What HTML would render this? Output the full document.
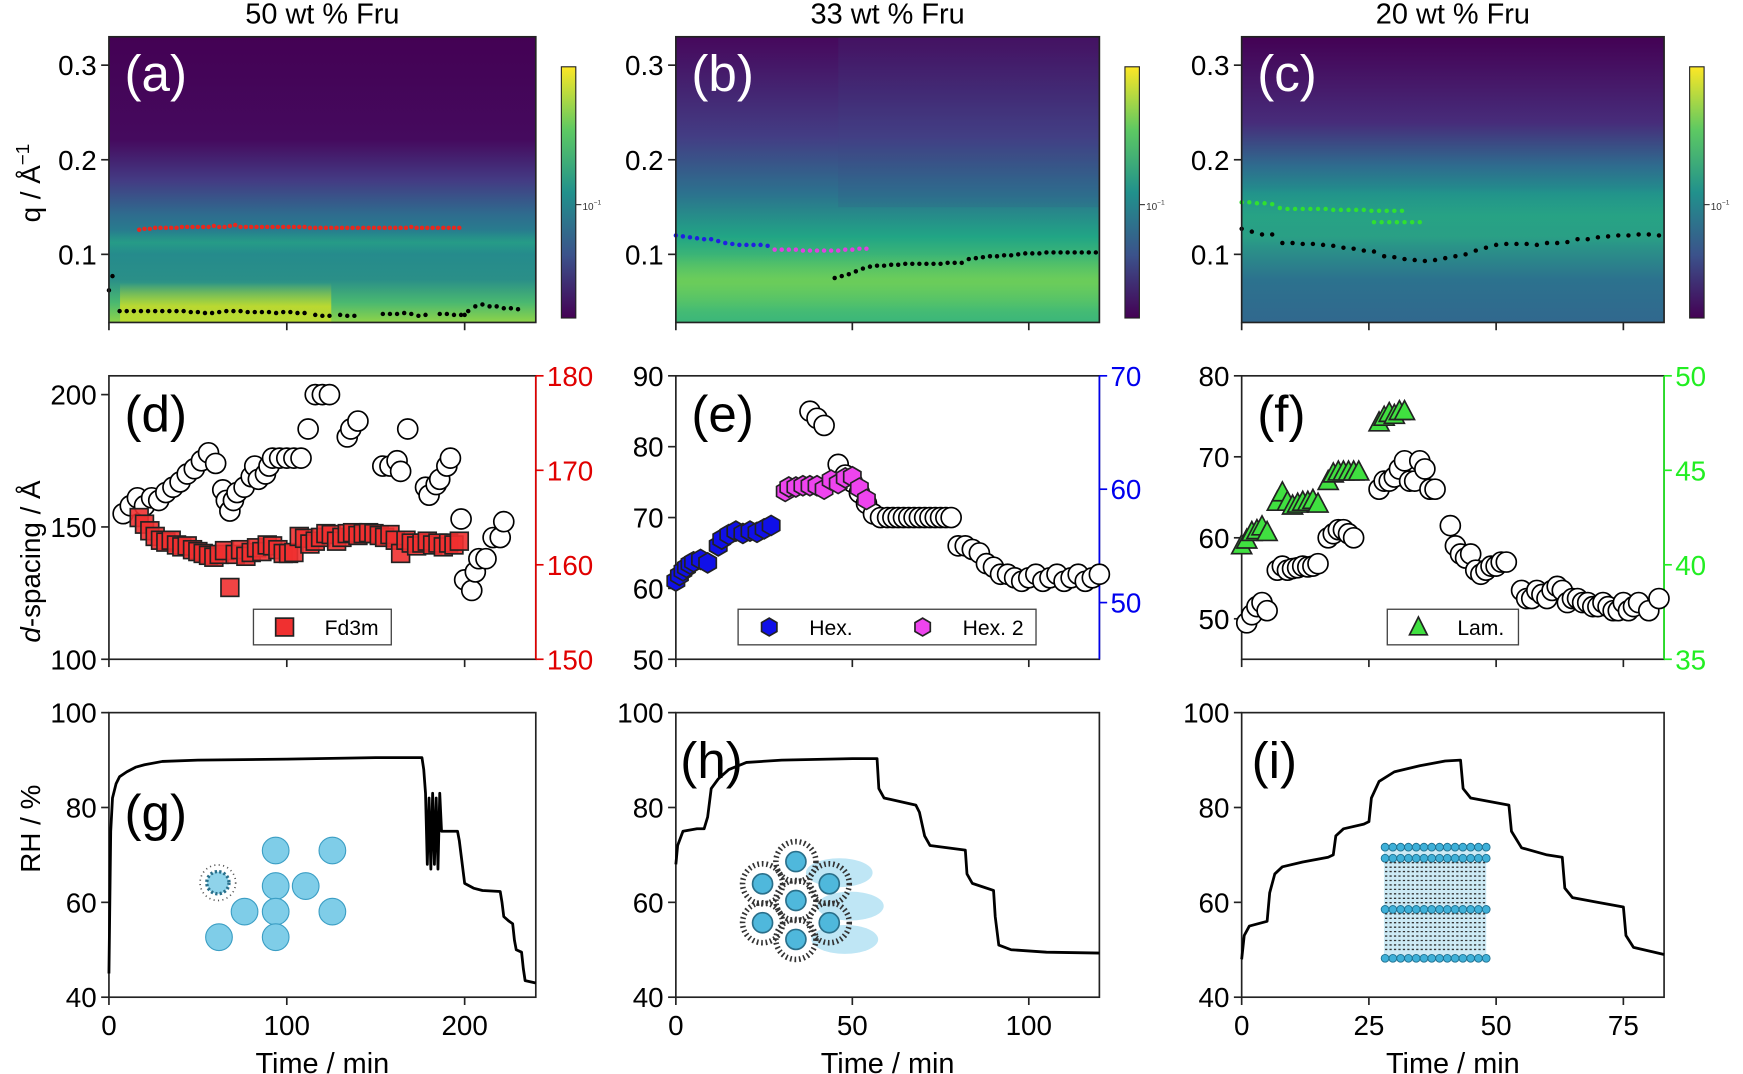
<!DOCTYPE html>
<html><head><meta charset="utf-8"><style>
html,body{margin:0;padding:0;background:#fff}
svg{display:block;font-family:"Liberation Sans",Arial,sans-serif}
</style></head><body>
<svg id="fig" width="1743" height="1074" viewBox="0 0 1568 966" xmlns="http://www.w3.org/2000/svg">
<defs>
<linearGradient id="viridis" x1="0" y1="1" x2="0" y2="0">
<stop offset="0" stop-color="#440154"/><stop offset="0.25" stop-color="#3b528b"/><stop offset="0.5" stop-color="#21918c"/><stop offset="0.75" stop-color="#5ec962"/><stop offset="1" stop-color="#fde725"/>
</linearGradient>
<linearGradient id="hmA" x1="0" y1="0" x2="0" y2="1">
<stop offset="0" stop-color="#440154"/><stop offset="0.36" stop-color="#450a5e"/><stop offset="0.5" stop-color="#443a83"/><stop offset="0.62" stop-color="#2f6b8e"/><stop offset="0.72" stop-color="#23898e"/><stop offset="0.85" stop-color="#2a8f88"/><stop offset="0.93" stop-color="#4ab870"/><stop offset="1" stop-color="#8fd448"/>
</linearGradient>
<linearGradient id="hmB" x1="0" y1="0" x2="0" y2="1">
<stop offset="0" stop-color="#46085c"/><stop offset="0.35" stop-color="#433d84"/><stop offset="0.55" stop-color="#2c728e"/><stop offset="0.7" stop-color="#21a585"/><stop offset="0.85" stop-color="#5ec962"/><stop offset="1" stop-color="#3bb67a"/>
</linearGradient>
<linearGradient id="hmC" x1="0" y1="0" x2="0" y2="1">
<stop offset="0" stop-color="#440154"/><stop offset="0.3" stop-color="#472c7a"/><stop offset="0.45" stop-color="#2f6b8e"/><stop offset="0.55" stop-color="#21918c"/><stop offset="0.7" stop-color="#2a9d86"/><stop offset="0.85" stop-color="#2c728e"/><stop offset="1" stop-color="#31688e"/>
</linearGradient>
<linearGradient id="bandY" x1="0" y1="0" x2="0" y2="1"><stop offset="0" stop-color="#e5e419" stop-opacity="0"/><stop offset="0.6" stop-color="#e5e419" stop-opacity="0.7"/><stop offset="1" stop-color="#e5e419" stop-opacity="0.5"/></linearGradient>
<linearGradient id="bandG" x1="0" y1="0" x2="0" y2="1"><stop offset="0" stop-color="#7ad151" stop-opacity="0"/><stop offset="0.5" stop-color="#7ad151" stop-opacity="0.5"/><stop offset="1" stop-color="#7ad151" stop-opacity="0"/></linearGradient>
<linearGradient id="bandT" x1="0" y1="0" x2="0" y2="1"><stop offset="0" stop-color="#28ae80" stop-opacity="0"/><stop offset="0.5" stop-color="#28ae80" stop-opacity="0.5"/><stop offset="1" stop-color="#28ae80" stop-opacity="0"/></linearGradient>
</defs>
<g id="root"></g>
</svg>
<script>
// ---- data ----
const titles = ["50 wt % Fru","33 wt % Fru","20 wt % Fru"];
const qTicks = [0.1,0.2,0.3];
const aRedT = [17,20,23,26,29,32,35,38,41,44,47,50,53,56,59,62,65,68,71,74,77,80,83,86,89,92,95,98,101,104,107,110,113,116,119,122,125,128,131,134,137,140,143,146,149,152,155,158,161,164,167,170,173,176,179,182,185,188,191,194,197];
const aRedQ = [0.126,0.127,0.127,0.128,0.128,0.128,0.128,0.128,0.129,0.129,0.129,0.129,0.129,0.129,0.130,0.129,0.129,0.130,0.131,0.129,0.129,0.129,0.129,0.129,0.129,0.129,0.129,0.129,0.129,0.129,0.129,0.129,0.128,0.128,0.128,0.128,0.128,0.128,0.128,0.128,0.128,0.128,0.128,0.128,0.128,0.128,0.128,0.128,0.128,0.128,0.128,0.129,0.128,0.128,0.128,0.128,0.128,0.128,0.128,0.128,0.128];
const aBlkT = [0,2,6,10,14,18,22,26,30,34,38,42,46,50,54,58,62,66,70,74,78,82,86,90,94,98,102,106,110,116,120,124,130,134,138,154,158,162,166,170,174,178,186,190,194,198,200,202,206,210,214,218,222,226,230];
const aBlkQ = [0.062,0.077,0.040,0.040,0.040,0.040,0.040,0.040,0.040,0.040,0.040,0.040,0.039,0.039,0.038,0.038,0.039,0.040,0.040,0.040,0.039,0.039,0.039,0.039,0.038,0.039,0.039,0.038,0.038,0.036,0.035,0.035,0.036,0.035,0.035,0.037,0.037,0.037,0.038,0.037,0.035,0.036,0.037,0.037,0.036,0.036,0.036,0.040,0.045,0.047,0.045,0.045,0.043,0.043,0.042];
const bBlueT = [0,2,4,6,8,10,12,14,16,18,20,22,24,26];
const bBlueQ = [0.120,0.119,0.118,0.117,0.116,0.116,0.114,0.112,0.111,0.110,0.110,0.110,0.110,0.109];
const bMagT = [28,30,32,34,36,38,40,42,44,46,48,50,52,54];
const bMagQ = [0.105,0.105,0.105,0.105,0.104,0.104,0.104,0.104,0.104,0.104,0.105,0.105,0.106,0.106];
const bBlkT = [45,47,49,51,53,55,57,59,61,63,65,67,69,71,73,75,77,79,81,83,85,87,89,91,93,95,97,99,101,103,105,107,109,111,113,115,117,119];
const bBlkQ = [0.075,0.077,0.079,0.082,0.085,0.087,0.088,0.088,0.089,0.089,0.090,0.090,0.090,0.090,0.090,0.090,0.091,0.091,0.091,0.095,0.096,0.097,0.098,0.098,0.099,0.099,0.100,0.101,0.101,0.101,0.102,0.102,0.102,0.102,0.102,0.102,0.102,0.102];
const cGrnT = [0,1.5,3,4.5,6,7.5,9,10.5,12,13.5,15,16.5,18,19.5,21,22.5,24,25.5,27,28.5,30,31.5];
const cGrnQ = [0.155,0.155,0.154,0.154,0.153,0.149,0.148,0.148,0.148,0.148,0.148,0.148,0.147,0.147,0.147,0.147,0.147,0.146,0.146,0.146,0.146,0.146];
const cGrn2T = [26,27.5,29,30.5,32,33.5,35];
const cGrn2Q = [0.134,0.134,0.134,0.134,0.134,0.134,0.134];
const cBlkT = [0,2,4,6,8,10,12,14,16,18,20,22,24,26,28,30,32,34,36,38,40,42,44,46,48,50,52,54,56,58,60,62,64,66,68,70,72,74,76,78,80,82];
const cBlkQ = [0.127,0.124,0.121,0.121,0.112,0.112,0.111,0.111,0.110,0.109,0.107,0.106,0.104,0.103,0.098,0.097,0.095,0.094,0.093,0.094,0.096,0.098,0.100,0.104,0.107,0.110,0.111,0.111,0.111,0.110,0.112,0.112,0.113,0.116,0.116,0.118,0.119,0.120,0.120,0.121,0.121,0.120];
const dCircT = [8,12,16,20,24,28,32,36,40,44,48,52,56,60,64,66,68,70,72,76,80,82,84,88,90,92,96,100,104,108,112,116,120,124,134,136,140,154,158,162,164,168,178,180,184,186,190,192,198,200,204,206,208,212,216,220,222];
const dCircV = [155,158,161,158,161,160,163,165,167,170,172,175,178,174,164,160,156,160,163,165,169,173,168,170,173,176,176,176,176,176,187,200,200,200,184,187,190,173,173,175,171,187,165,162,166,168,173,176,153,130,126,133,138,138,146,146,152];
const dSqT = [17,20,23,26,29,32,35,38,41,44,47,50,53,56,59,62,65,68,71,74,77,80,83,86,89,92,95,98,101,104,107,110,113,116,119,122,125,128,131,134,137,140,143,146,149,152,155,158,161,164,167,170,173,176,179,182,185,188,191,194,197];
const dSqV = [165,164.3,163.6,163,162.6,162.4,162.6,162.1,161.9,162,161.6,161.4,161.2,161,160.8,161.1,161.5,157.6,161.1,161.6,160.9,161.3,161.8,161.4,162.1,162,161.6,161.2,161.2,161.3,163,162.8,162.2,162.5,162.9,163.3,163.2,162.5,162.9,163.3,163.4,163.1,163.3,163.4,163.3,163.1,162.9,163.2,162.6,161.2,162.6,162.3,162,162.3,162.5,162.1,162.3,161.9,162.3,162.1,162.5];
const eCircT = [38,40,42,46,48,50,52,54,56,58,60,61.5,63,64.5,66,67.5,69,70.5,72,73.5,75,76.5,78,80,82,84,86,88,90,92,94,96,98,100,102,104,106,108,110,112,114,116,118,120];
const eCircV = [85,84,83,77.5,76,75,73.5,72,70.5,70,70,70,70,70,70,70,70,70,70,70,70,70,70,66,66,65.5,65,63.5,63,62,62,61.5,61,61.5,62,61,61.5,62,61,61.5,62,61,61.5,62];
const eBlueT = [0,1,2,3,4,5,7,9,12,13,15,17,19,21,23,25,27];
const eBlueV = [51.9,52.4,52.8,53.1,53.4,53.6,53.8,53.5,55,55.6,56,56.3,56.1,56.3,56.2,56.5,56.8];
const eMagT = [31,32,34,36,38,40,42,44,46,48,50,52,54];
const eMagV = [59.8,60.2,60.2,60.3,60.3,60.3,60,60.8,60.5,61,61.1,60.1,59.1];
const fCircT = [1,2,3,4,5,7,8,9,10,11,12,13,14,15,17,18,19,20,21,22,27,28,29,30,31,32,33,34,35,36,37,38,41,42,43,44,45,46,47,48,49,50,51,52,55,56,57,58,59,60,61,62,63,64,65,66,67,68,69,70,71,72,73,74,75,76,77,78,80,82];
const fCircV = [49.5,50.5,51.5,52,51,56,56.5,56,56.2,56.3,56.5,56.4,56.5,56.8,60,60.5,61,61,60.5,60,66,67,67,67.5,68.5,69.5,67,67,69.5,68.5,66,66,61.5,59,58,57.5,58,56,55.5,56,56.5,56.5,57,57,53.5,52.5,52.5,53.5,53,52.5,53.5,54,53.5,52,52.5,52.5,52,52,51.5,51.5,52,51.5,51,51,52,51,51.5,52,51,52.5];
const fTriT = [0,1,2,3,4,5,7,8,9,10,11,12,13,14,15,17,18,19,20,21,22,23,27,28,29,30,31,32];
const fTriV = [41,41.3,41.7,41.8,42,41.7,43.3,43.8,43.3,43.1,43.2,43.3,43.3,43.4,43.2,44.4,44.8,44.9,44.9,44.9,44.9,44.9,47.5,47.8,48,47.9,48.1,48.1];
const gT = [0,0.5,1,2,4,6,10,15,20,30,50,100,150,176,177,178,179,180,181,182,183,184,185,186,187,196,197,198,200,205,210,220,221,222,225,227,228,229,232,233,234,240];
const gV = [45,60,75,82,85,86.5,87.5,88.5,89,89.7,90,90.2,90.5,90.5,88,83,68,82,67,83,68,82,67,83,75,75,73,70,64,63,62.5,62.3,60,57,56,55.5,52,50,49.5,46,43.5,43];
const hT = [0,0.5,2,6,8,9,10,12,15,20,30,50,57,57.5,59,68,69,70.5,72,82,82.5,84,90,90.5,91.5,95,105,120];
const hV = [68,72,75,75.5,75.5,78,84,86,88,89.5,90,90.3,90.3,84,82,80.5,79,74,72,71,66,64,62.5,57,51,50,49.5,49.3];
const iT = [0,0.5,1.5,5,5.5,6.5,8,12,17,18,18.5,20,24,25,25.5,27,30,35,40,43,43.5,45,50,52.5,53,55,60,63,63.5,65,70,75,75.5,77,83];
const iV = [48,53,55,56,62,66,67.5,68.5,69.5,70,74,75.5,76.5,77,82,85.5,87.5,88.8,89.8,90,84,82,81,80.5,75,71.5,70,69.5,63,61,60,59,53,50.5,49];

// ---- layout ----
const NS="http://www.w3.org/2000/svg";
const root=document.getElementById('root');
function el(tag,attrs,parent){const e=document.createElementNS(NS,tag);for(const k in attrs)e.setAttribute(k,attrs[k]);(parent||root).appendChild(e);return e;}
function txt(x,y,s,size,attrs,parent){const t=el('text',Object.assign({x:x,y:y,'font-size':size},attrs||{}),parent);t.textContent=s;return t;}
const cols=[{l:98,r:482,tmax:240,xt:[0,100,200]},{l:608,r:989,tmax:120,xt:[0,50,100]},{l:1117,r:1497,tmax:83,xt:[0,25,50,75]}];
const rows=[{t:33,b:290},{t:338,b:593},{t:641,b:897}];
function sx(c,t){return c.l+(t/c.tmax)*(c.r-c.l);}
function sy(r,lo,hi,v){return r.b-(v-lo)/(hi-lo)*(r.b-r.t);}
function frame(c,r,name){const g=el('rect',{x:c.l,y:r.t,width:c.r-c.l,height:r.b-r.t,fill:'none',stroke:'#222','stroke-width':1.5});}
function xticks(c,r,labels){c.xt.forEach(v=>{const x=sx(c,v);el('line',{x1:x,x2:x,y1:r.b,y2:r.b+7,stroke:'#222','stroke-width':1.5});if(labels){const t=txt(x,r.b+34,String(v),25,{'text-anchor':'middle'});}});}
function yticks(c,r,lo,hi,ticks,side,color,fmt){ticks.forEach(v=>{const y=sy(r,lo,hi,v);if(side==='l'){el('line',{x1:c.l-7,x2:c.l,y1:y,y2:y,stroke:color,'stroke-width':1.5});const t=txt(c.l-11,y+9,fmt(v),25,{'text-anchor':'end',fill:'#000'});}else{el('line',{x1:c.r,x2:c.r+7,y1:y,y2:y,stroke:color,'stroke-width':1.5});const t=txt(c.r+10,y+9,fmt(v),25,{'text-anchor':'start',fill:color});}});}

titles.forEach((s,i)=>{const c=cols[i];const t=txt((c.l+c.r)/2,21,s,26,{'text-anchor':'middle'});});

// ---- row 1 heatmaps ----
const hm=['hmA','hmB','hmC'];
const qLo=0.028,qHi=0.33;
cols.forEach((c,i)=>{const r=rows[0];
 const rc=el('rect',{x:c.l,y:r.t,width:c.r-c.l,height:r.b-r.t,fill:'url(#'+hm[i]+')'});
 
 
 const cx=c.r+23;
 const cb=el('rect',{x:cx,y:60,width:13,height:226,fill:'url(#viridis)',stroke:'#222','stroke-width':1});
 
 
 txt(cx+19,189,'10',9,{fill:'#333'});txt(cx+29,184,'−1',6,{fill:'#333'});
 el('line',{x1:cx+13,x2:cx+18,y1:184,y2:184,stroke:'#333'});
});
(function(){const c=cols[0],r=rows[0];
 el('rect',{x:c.l+10,y:sy(r,qLo,qHi,0.07),width:190,height:sy(r,qLo,qHi,0.028)-sy(r,qLo,qHi,0.07),fill:'url(#bandY)'});
 el('rect',{x:c.l,y:sy(r,qLo,qHi,0.125),width:c.r-c.l,height:sy(r,qLo,qHi,0.1)-sy(r,qLo,qHi,0.125),fill:'url(#bandT)'});
 const c2=cols[1];
 el('rect',{x:sx(c2,46),y:r.t,width:c2.r-sx(c2,46),height:sy(r,qLo,qHi,0.15)-r.t,fill:'#3e4a89',opacity:0.15});
 el('rect',{x:c2.l,y:sy(r,qLo,qHi,0.1),width:c2.r-c2.l,height:sy(r,qLo,qHi,0.04)-sy(r,qLo,qHi,0.1),fill:'url(#bandG)'});
 const c3=cols[2];
 el('rect',{x:c3.l,y:sy(r,qLo,qHi,0.17),width:c3.r-c3.l,height:sy(r,qLo,qHi,0.11)-sy(r,qLo,qHi,0.17),fill:'url(#bandT)'});
})();
function dots(ci,T,Q,color,name){const c=cols[ci],r=rows[0];T.forEach((t,k)=>{const d=el('circle',{cx:sx(c,t),cy:sy(r,qLo,qHi,Q[k]),r:2,fill:color});});}
dots(0,aRedT,aRedQ,'#e8281e','fd3m-peak-point');
dots(0,aBlkT,aBlkQ,'#000','peak-point');
dots(1,bBlueT,bBlueQ,'#2020e0','hex-peak-point');
dots(1,bMagT,bMagQ,'#e040e0','hex2-peak-point');
dots(1,bBlkT,bBlkQ,'#000','peak-point');
dots(2,cGrnT,cGrnQ,'#30e030','lam-peak-point');
dots(2,cGrn2T,cGrn2Q,'#30e030','lam-peak-point');
dots(2,cBlkT,cBlkQ,'#000','peak-point');
cols.forEach((c,i)=>{frame(c,rows[0],'heatmap-frame');xticks(c,rows[0],false);yticks(c,rows[0],qLo,qHi,qTicks,'l','#222',v=>v.toFixed(1));});
['(a)','(b)','(c)'].forEach((s,i)=>{const t=txt(cols[i].l+14,82,s,46,{fill:'#fff'});});
{const t=txt(0,0,'q / Å',25,{transform:'translate(36,200) rotate(-90)'});const s=el('tspan',{dy:-10,'font-size':17},t);s.textContent='−1';}

// ---- row 2 ----
const r2=rows[1];
const dRanges=[[100,207.1,[100,150,200],150,180,[150,160,170,180],'#e00000'],[50,90,[50,60,70,80,90],45,70,[50,60,70],'#0000ee'],[45,80,[50,60,70,80],35,50,[35,40,45,50],'#22ee22']];
cols.forEach((c,i)=>{const d=dRanges[i];frame(c,r2,'d-spacing-plot-frame');xticks(c,r2,false);yticks(c,r2,d[0],d[1],d[2],'l','#222',v=>String(v));yticks(c,r2,d[3],d[4],d[5],'r',d[6],v=>String(v));el('line',{x1:c.r,x2:c.r,y1:r2.t,y2:r2.b,stroke:d[6],'stroke-width':1.5});});
function circles(ci,T,V,lo,hi,name){const c=cols[ci];T.forEach((t,k)=>{const e=el('circle',{cx:sx(c,t),cy:sy(r2,lo,hi,V[k]),r:9,fill:'#fff',stroke:'#000','stroke-width':1.5});});}
function squares(ci,T,V,lo,hi){const c=cols[ci];T.forEach((t,k)=>{const x=sx(c,t),y=sy(r2,lo,hi,V[k]);const e=el('rect',{x:x-8,y:y-8,width:16,height:16,fill:'#f03030','fill-opacity':0.9,stroke:'#222','stroke-width':1.5});});}
function hexPts(x,y,s){let p=[];for(let k=0;k<6;k++){const a=Math.PI/6+k*Math.PI/3;p.push((x+s*Math.cos(a)).toFixed(1)+','+(y+s*Math.sin(a)).toFixed(1));}return p.join(' ');}
function hexes(ci,T,V,lo,hi,color,name){const c=cols[ci];T.forEach((t,k)=>{const e=el('polygon',{points:hexPts(sx(c,t),sy(r2,lo,hi,V[k]),9),fill:color,stroke:'#222','stroke-width':1.5});});}
function tris(ci,T,V,lo,hi){const c=cols[ci];T.forEach((t,k)=>{const x=sx(c,t),y=sy(r2,lo,hi,V[k]);const e=el('polygon',{points:`${x},${y-10} ${x-9},${y+7} ${x+9},${y+7}`,fill:'#40e040',stroke:'#222','stroke-width':1.5});});}
circles(0,dCircT,dCircV,100,207.1,'d-spacing-marker');
squares(0,dSqT,dSqV,150,180);
circles(1,eCircT,eCircV,50,90,'d-spacing-marker');
hexes(1,eBlueT,eBlueV,45,70,'#1010e8','hex-marker');
hexes(1,eMagT,eMagV,45,70,'#ee44ee','hex2-marker');
circles(2,fCircT,fCircV,45,80,'d-spacing-marker');
tris(2,fTriT,fTriV,35,50);
['(d)','(e)','(f)'].forEach((s,i)=>{const t=txt(cols[i].l+14,388,s,46,{fill:'#000'});});
(function(){let g=el('g',{});
 el('rect',{x:228,y:548,width:124,height:32,fill:'#fff',stroke:'#444','stroke-width':1.2},g);
 el('rect',{x:248,y:556,width:16,height:16,fill:'#f03030',stroke:'#222','stroke-width':1.5},g);txt(292,571,'Fd3m',19,{},g);
 g=el('g',{});
 el('rect',{x:664,y:548,width:268,height:32,fill:'#fff',stroke:'#444','stroke-width':1.2},g);
 el('polygon',{points:hexPts(692,564,8),fill:'#1010e8',stroke:'#222','stroke-width':1.5},g);txt(728,571,'Hex.',19,{},g);
 el('polygon',{points:hexPts(830,564,8),fill:'#ee44ee',stroke:'#222','stroke-width':1.5},g);txt(866,571,'Hex. 2',19,{},g);
 g=el('g',{});
 el('rect',{x:1248,y:548,width:118,height:32,fill:'#fff',stroke:'#444','stroke-width':1.2},g);
 el('polygon',{points:'1276,555 1268,571 1284,571',fill:'#40e040',stroke:'#222','stroke-width':1.5},g);txt(1311,571,'Lam.',19,{},g);
})();
{const t=txt(0,0,'',25,{transform:'translate(36,578) rotate(-90)'});const a=el('tspan',{'font-style':'italic'},t);a.textContent='d';const b=el('tspan',{},t);b.textContent='-spacing / Å';}

// ---- row 3 ----
const r3=rows[2];
const rhData=[[gT,gV],[hT,hV],[iT,iV]];
cols.forEach((c,i)=>{frame(c,r3,'rh-plot-frame');xticks(c,r3,true);yticks(c,r3,40,100,[40,60,80,100],'l','#222',v=>String(v));
 const d=rhData[i];const p=d[0].map((t,k)=>(k?'L':'M')+sx(c,t).toFixed(1)+','+sy(r3,40,100,d[1][k]).toFixed(1)).join(' ');
 const e=el('path',{d:p,fill:'none',stroke:'#000','stroke-width':2.5,'stroke-linejoin':'round'});
 const t=txt((c.l+c.r)/2,965,'Time / min',26,{'text-anchor':'middle'});
});
[['(g)',112,747],['(h)',612,700],['(i)',1126,700]].forEach(a=>{const t=txt(a[1],a[2],a[0],46,{fill:'#000'});});
{const t=txt(0,0,'RH / %',25,{transform:'translate(36,785) rotate(-90)'});}
(function(){let g=el('g',{});
 [[248,765],[299,765],[248,797],[275,797],[220,820],[248,820],[299,820],[197,843],[248,843]].forEach(p=>{el('circle',{cx:p[0],cy:p[1],r:12,fill:'#7fcde8',stroke:'#3b9ec4','stroke-width':1},g);});
 el('circle',{cx:196,cy:794,r:10,fill:'#8fd3ea',stroke:'#2a6f8a','stroke-width':3,'stroke-dasharray':'2 2'},g);
 el('circle',{cx:196,cy:794,r:16,fill:'none',stroke:'#555','stroke-width':1.5,'stroke-dasharray':'1 3'},g);
 g=el('g',{});
 [[735,785],[745,815],[740,845]].forEach(p=>el('ellipse',{cx:p[0]+20,cy:p[1],rx:30,ry:13,fill:'#bfe6f5'},g));
 [[686,795],[716,775],[746,795],[686,830],[716,810],[746,830],[716,845]].forEach(p=>{el('circle',{cx:p[0],cy:p[1],r:18,fill:'none',stroke:'#333','stroke-width':5,'stroke-dasharray':'1.5 2.5'},g);el('circle',{cx:p[0],cy:p[1],r:9,fill:'#4fb8dc',stroke:'#2a6f8a','stroke-width':1.5},g);});
 g=el('g',{});
 el('rect',{x:1245,y:760,width:92,height:105,fill:'#cdeaf5'},g);
 [762,772,818,862].forEach(y=>{for(let x=1246;x<1338;x+=7)el('circle',{cx:x,cy:y,r:3.5,fill:'#3fb0d8',stroke:'#1d6f8f','stroke-width':0.8},g);});
 [[776,814],[822,858]].forEach(a=>{for(let y=a[0];y<a[1];y+=4)el('line',{x1:1246,x2:1337,y1:y,y2:y,stroke:'#333','stroke-width':1.2,'stroke-dasharray':'2 2'},g);});
})();
</script>
</body></html>
